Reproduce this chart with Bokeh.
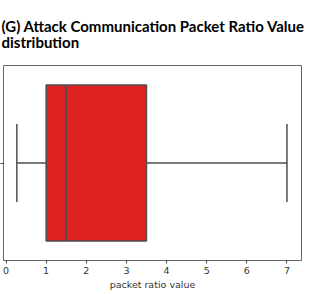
from bokeh.plotting import figure
from bokeh.models import Range1d, FixedTicker, ColumnDataSource
from bokeh.embed import file_html
from bokeh.resources import INLINE

# data
series = ["packet ratio value"]
whisker_low = [0.27]
q1 = [1.0]
median = [1.5]
q3 = [3.5]
whisker_high = [7.0]
x_ticks = [0, 1, 2, 3, 4, 5, 6, 7]
title_lines = ["(G) Attack Communication Packet Ratio Value", "distribution"]

FILL = "#df2020"
LINE = "#4d4d4d"

p = figure(width=321, height=292, output_backend="svg", toolbar_location=None,
           x_range=Range1d(-0.0625, 7.3625), y_range=Range1d(-0.5, 0.5),
           min_border_left=0, min_border_right=20, min_border_top=65, min_border_bottom=30,
           margin=(0, 0, 0, 0))

p.title.text = "\n".join(title_lines)
p.title.text_font = "Lato"
p.title.text_font_size = "15px"
p.title.text_font_style = "bold"
p.title.text_color = "#000000"
p.title.text_line_height = 0.93
p.title.align = "left"
p.title.offset = -2
p.title.standoff = 28

p.grid.visible = False
p.outline_line_color = "#666666"
p.outline_line_width = 1

xa = p.xaxis[0]
xa.ticker = FixedTicker(ticks=x_ticks)
xa.axis_line_color = None
xa.major_tick_in = 0
xa.major_tick_out = 3
xa.major_tick_line_color = "#444444"
xa.minor_tick_line_color = None
xa.major_label_text_font = "DejaVu Sans"
xa.major_label_text_font_size = "9.5px"
xa.major_label_text_color = "#333333"
xa.major_label_standoff = 3
xa.axis_label = series[0]
xa.axis_label_text_font = "DejaVu Sans"
xa.axis_label_text_font_size = "9.5px"
xa.axis_label_text_font_style = "normal"
xa.axis_label_text_color = "#333333"
xa.axis_label_standoff = 2

ya = p.yaxis[0]
ya.ticker = FixedTicker(ticks=[0])
ya.axis_line_color = None
ya.major_tick_in = 0
ya.major_tick_out = 3
ya.major_tick_line_color = "#444444"
ya.minor_tick_line_color = None
ya.major_label_text_font_size = "0px"
ya.major_label_standoff = 0
ya.major_label_overrides = {0: ""}

ypos = [0.0]
src = ColumnDataSource(dict(y=ypos, lo=whisker_low, q1=q1, med=median, q3=q3, hi=whisker_high))

# whiskers
p.segment(x0="lo", y0="y", x1="q1", y1="y", source=src, line_color=LINE, line_width=1.5)
p.segment(x0="q3", y0="y", x1="hi", y1="y", source=src, line_color=LINE, line_width=1.5)
# caps
cap = 0.2
box = 0.4
p.segment(x0="lo", y0=ypos[0] - cap, x1="lo", y1=ypos[0] + cap, source=src, line_color=LINE, line_width=1.5)
p.segment(x0="hi", y0=ypos[0] - cap, x1="hi", y1=ypos[0] + cap, source=src, line_color=LINE, line_width=1.5)
# box
p.quad(left="q1", right="q3", bottom=ypos[0] - box, top=ypos[0] + box, source=src,
       fill_color=FILL, line_color=LINE, line_width=1.5)
# median
p.segment(x0="med", y0=ypos[0] - box, x1="med", y1=ypos[0] + box, source=src, line_color=LINE, line_width=1.5)

open("out.html", "w").write(file_html(p, INLINE))
